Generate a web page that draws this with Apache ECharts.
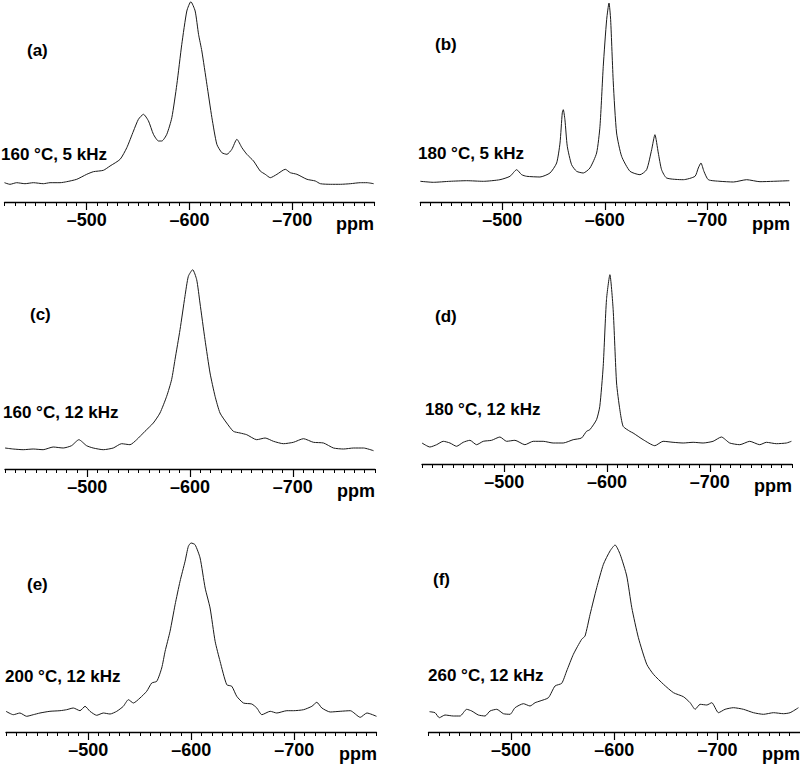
<!DOCTYPE html>
<html><head><meta charset="utf-8">
<script src="https://cdn.jsdelivr.net/npm/echarts@6/dist/echarts.min.js"></script>
<style>html,body{margin:0;padding:0;background:#fff}#c{width:800px;height:766px}</style>
</head><body><div id="c"></div>
<script>
// ---- Data (chemical shift in ppm, intensity in arbitrary units) ----
const ppmA = [-420,-425.3,-431.8,-439.9,-448.1,-457.8,-464.3,-474,-480.5,-490.3,-500,-506.5,-516.2,-522.7,-532.5,-539,-545.5,-550.3,-555.2,-560.1,-564.9,-569.8,-573.1,-577.9,-582.8,-587.7,-592.5,-597.4,-601.3,-605.5,-608.8,-612,-616.9,-621.8,-626.6,-631.5,-636.4,-641.2,-646.1,-651,-655.8,-662.3,-668.8,-673.7,-678.6,-685.1,-693.2,-698.1,-704.5,-714.3,-722.4,-727.3,-737,-746.8,-756.5,-766.2,-772.7,-779.2];
const intA = [19.3,17.7,19.3,18.3,19.3,18.3,19.3,19.3,20.3,22.7,27.7,30.3,31.7,36,42.7,54.3,71,82.7,87.7,81,67.7,61,61,67.7,84.3,117.7,157.7,191,200.3,191,167.7,151,117.7,84.3,57.7,49.3,47.7,52.7,62.7,54.3,47.7,41,31,27.7,24.3,27.7,32.7,29.3,27.7,22.7,21,18.3,17.7,17.7,18.3,19.3,19.3,18.3];

const ppmB = [-420,-432.7,-448.9,-465.2,-481.5,-497.7,-507.5,-514,-518.9,-523.7,-536.7,-546.5,-553,-556.3,-558.5,-559.5,-561.1,-563.4,-567.6,-572.5,-579,-585.5,-592,-595.3,-598.5,-601.8,-604.1,-605.7,-608.3,-611.5,-616.4,-624.6,-634.3,-640.8,-645.7,-648.9,-652.2,-655.4,-660.3,-676.6,-688,-691.2,-693.8,-696.7,-701,-712.4,-725.4,-738.4,-751.4,-764.4,-780];
const intB = [20.7,19.7,20.7,21.3,20.7,22.3,25.7,32.3,27.3,25.7,25,29,39,59,89,92.3,82.3,55.7,37.3,30.7,29,34,49,75.7,135.7,182.3,199,182.3,119,69,45.7,30.7,27.3,32.3,52.3,67.3,49,32.3,24,22.3,25.7,34,39,30.7,22.3,20.7,20,22.3,20.3,20.7,21.3];

const ppmC = [-420,-427.9,-437.7,-447.4,-457.1,-466.9,-476.6,-484.7,-491.9,-499.4,-505.8,-515.6,-525.3,-533.4,-541.6,-548.1,-556.2,-564.3,-570.8,-577.3,-582.1,-585.4,-590.3,-595.1,-598.4,-602.6,-606.5,-609.7,-614.6,-619.5,-624.4,-629.2,-635.7,-642.2,-648.7,-655.2,-664.9,-673.1,-681.2,-690.9,-700.6,-710.4,-720.1,-729.9,-739.6,-749.4,-759.1,-768.8,-778.6];
const intC = [21,20,19.3,20,19.3,22,21,23.3,29.3,23.3,21,19.3,21,25.3,24.3,29.3,37.7,46,56,72.7,89.3,109.3,139.3,172.7,192.7,199.3,189.3,166,129.3,96,72.7,56,46,37.7,36,34.3,29.3,31,27.7,25.3,26.7,30.3,26.7,26,21,20,21,21,18.3];

const ppmD = [-420,-427.7,-434.2,-440.7,-447.2,-453.6,-460.1,-466.6,-473.1,-479.6,-487.7,-495.8,-502.3,-510.4,-520.1,-528.2,-537.9,-547.6,-557.4,-567.1,-575.2,-580.1,-583.3,-589.8,-593,-596.3,-599.5,-602.8,-606,-609.3,-612.5,-615.7,-622.2,-625.4,-635.2,-646.5,-654.6,-664.3,-674.1,-683.8,-693.5,-703.2,-711.3,-719.4,-729.2,-738.9,-748.6,-755.1,-764.8,-774.6,-779.4];
const intD = [21,17,19.3,22.7,21,17.7,21.7,23.7,19.3,22.7,23.7,27,22.7,23.7,19.3,22.7,22.7,21,21,24.3,26,32.7,34.3,44.3,57.7,97.7,164.3,189.3,154.3,81,54.3,37.7,32.7,31,24.3,18.3,22.7,21.7,21,21.7,21,22.7,27,21,19.3,22.7,19.3,21.7,20.3,21,22.7];

const ppmE = [-420,-427.1,-433.5,-440,-446.5,-453,-462.7,-472.4,-478.9,-485.4,-491.9,-496.8,-501.6,-508.1,-514.6,-521.1,-527.6,-534,-538.9,-543.8,-550.2,-556.7,-561.6,-566.5,-571.3,-574.6,-579.4,-584.3,-589.1,-594,-597.2,-599.8,-603.7,-608.6,-613.5,-618.3,-623.2,-628,-634.5,-639.4,-644.2,-650.7,-658.8,-663.7,-668.6,-676.7,-683.1,-692.9,-699.4,-709.1,-717.2,-722,-726.9,-735,-744.7,-754.5,-764.2,-770.7,-780];
const intE = [20.7,17.3,19,15.7,17.3,19,20.7,21.3,22.3,24,21.3,25.7,20.7,16.7,19,18,20.7,25.7,32.3,29,34,40.7,49,50.7,64,80.7,100.7,127.3,150.7,170.7,185.7,189,187.3,174,144,124,90.7,70.7,47.3,45.7,35.7,29,28,24,17.3,20.7,19,21.3,21.3,22.3,25.7,29.7,24,20,20.7,21.3,14.7,19,15.7];

const ppmF = [-421,-426.3,-430.5,-436,-444.1,-450.6,-457,-461.9,-468.3,-474.8,-479.6,-486.1,-492.6,-499,-503.9,-512,-518.4,-523.3,-528.1,-536.2,-542.6,-549.1,-553.9,-560.4,-568.4,-571.7,-576.6,-583,-589.5,-595.9,-600.8,-605.7,-612.1,-617,-623.4,-631.5,-638,-647.7,-657.4,-667,-673.5,-678.4,-683.2,-689.7,-694.5,-701,-707.4,-715.5,-725.2,-734.9,-744.6,-754.3,-764,-770.4,-778.5];
const intF = [20.3,19.3,14.3,17,16,16,22.7,21,17,16,21,22.7,18.3,17.7,24.3,28.3,26,29.3,31,34.3,46,48.7,61,77.7,92.7,96,117.7,144.3,167.7,181,187,177.7,156,124.3,94.3,67.7,57.7,47.7,39.3,35.3,29.3,22.7,27.7,27,29.3,19.3,22.7,24.3,22.7,19.3,17.7,19.3,18.3,19.3,24.3];

const panelLabels = ['(a)','(b)','(c)','(d)','(e)','(f)'];
const conditions = ['160 \u00B0C, 5 kHz','180 \u00B0C, 5 kHz','160 \u00B0C, 12 kHz','180 \u00B0C, 12 kHz','200 \u00B0C, 12 kHz','260 \u00B0C, 12 kHz'];
const majorTicks = [-500,-600,-700];
const axisUnit = 'ppm';
const ppmRange = [-780, -420];

// ---- Layout (pixels) ----
const layout = [
  {left:4.5, width:370, axisY:202, lab:[27,50], cond:[1,154], unitX:374},
  {left:420.3, width:369, axisY:202, lab:[435,44], cond:[418,153], unitX:790},
  {left:5, width:370, axisY:469, lab:[30,314], cond:[3,412], unitX:375},
  {left:422, width:370, axisY:464, lab:[435,316], cond:[425,409], unitX:792},
  {left:6, width:370.5, axisY:732, lab:[27,584], cond:[5,676], unitX:377},
  {left:428.5, width:371.5, axisY:732, lab:[433,579], cond:[428,675], unitX:800}
];
const H = 200;
const ppmSets = [ppmA, ppmB, ppmC, ppmD, ppmE, ppmF];
const intSets = [intA, intB, intC, intD, intE, intF];

const FONT = '"Liberation Sans", Arial, Helvetica, sans-serif';
const grids = [], xAxes = [], yAxes = [], series = [], graphics = [];

layout.forEach((L, i) => {
  grids.push({left: L.left, width: L.width, top: L.axisY - H, height: H});
  // minor-tick axis with the axis line
  xAxes.push({
    type:'value', gridIndex:i, position:'bottom', min:ppmRange[0], max:ppmRange[1], inverse:true, interval:10,
    axisLine:{show:true, onZero:false, lineStyle:{color:'#000', width:1.3}},
    axisTick:{show:true, length:4, lineStyle:{color:'#000', width:1}},
    axisLabel:{show:false}, splitLine:{show:false}
  });
  // major ticks and labels
  xAxes.push({
    type:'value', gridIndex:i, position:'bottom', offset:0, min:ppmRange[0], max:ppmRange[1], inverse:true,
    axisLine:{show:false, onZero:false},
    axisTick:{show:true, length:8, customValues:majorTicks, lineStyle:{color:'#000', width:1.2}},
    axisLabel:{show:true, customValues:majorTicks, margin:9, fontSize:18, fontWeight:'bold', color:'#000', fontFamily:FONT,
      formatter: v => String(v).replace('-', '\u2013')},
    splitLine:{show:false}
  });
  yAxes.push({type:'value', gridIndex:i, min:0, max:H, show:false, splitLine:{show:false}});
  series.push({
    type:'line', xAxisIndex:2*i, yAxisIndex:i, showSymbol:false, silent:true, clip:false, smooth:0.2,
    lineStyle:{color:'#1a1a1a', width:1},
    data: ppmSets[i].map((p, k) => [p, intSets[i][k]])
  });
  graphics.push({type:'text', x:L.lab[0], y:L.lab[1], style:{text:panelLabels[i], font:'bold 17px ' + FONT, fill:'#000', textAlign:'left', textVerticalAlign:'middle'}});
  graphics.push({type:'text', x:L.cond[0], y:L.cond[1], style:{text:conditions[i], font:'bold 17px ' + FONT, fill:'#000', textAlign:'left', textVerticalAlign:'middle'}});
  graphics.push({type:'text', x:L.unitX, y:L.axisY + 22, style:{text:axisUnit, font:'bold 18px ' + FONT, fill:'#000', textAlign:'right', textVerticalAlign:'middle'}});
});

const chart = echarts.init(document.getElementById('c'), null, {renderer:'svg'});
chart.setOption({
  animation:false, backgroundColor:'#fff',
  grid:grids, xAxis:xAxes, yAxis:yAxes, series:series, graphic:graphics
});
</script></body></html>
